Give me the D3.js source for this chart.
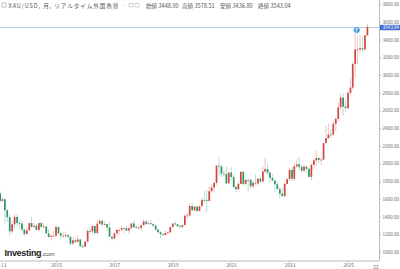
<!DOCTYPE html>
<html>
<head>
<meta charset="utf-8">
<script src="https://cdn.jsdelivr.net/npm/d3@7"></script>
<style>
  html, body { margin: 0; padding: 0; background: #fff; }
  #chart { width: 400px; height: 269px; overflow: hidden; }
</style>
</head>
<body>
<div id="chart"></div>
<script>
// XAU/USD monthly candles, Jan 2013 .. Sep 2025
const firstMonth = new Date(2013, 0, 1);

const opens = [
  1675, 1663, 1578, 1596, 1472, 1393, 1234, 1313, 1396, 1327, 1323, 1253,
  1202, 1244, 1326, 1284, 1296, 1250, 1327, 1282, 1287, 1210, 1171, 1182,
  1184, 1283, 1212, 1183, 1183, 1190, 1172, 1095, 1133, 1115, 1142, 1065,
  1061, 1118, 1238, 1233, 1293, 1215, 1321, 1351, 1309, 1316, 1277, 1173,
  1152, 1211, 1249, 1249, 1268, 1269, 1242, 1269, 1322, 1280, 1271, 1275,
  1303, 1345, 1318, 1325, 1316, 1299, 1253, 1224, 1201, 1192, 1215, 1222,
  1282, 1321, 1313, 1292, 1284, 1305, 1409, 1413, 1520, 1472, 1513, 1464,
  1517, 1589, 1585, 1577, 1687, 1730, 1781, 1975, 1967, 1886, 1879, 1776,
  1898, 1847, 1734, 1708, 1769, 1906, 1770, 1814, 1813, 1743, 1783, 1774,
  1829, 1797, 1909, 1937, 1897, 1837, 1807, 1766, 1711, 1660, 1633, 1768,
  1824, 1928, 1827, 1969, 1990, 1962, 1919, 1965, 1940, 1849, 1983, 2036,
  2063, 2040, 2044, 2230, 2286, 2327, 2326, 2448, 2503, 2635, 2744, 2643,
  2625, 2798, 2858, 3124, 3289, 3289, 3303, 3290, 3448
];
const highs = [
  1696, 1684, 1617, 1605, 1488, 1424, 1348, 1434, 1434, 1362, 1361, 1267,
  1280, 1332, 1392, 1331, 1315, 1332, 1345, 1322, 1292, 1255, 1206, 1239,
  1308, 1285, 1224, 1224, 1232, 1205, 1175, 1170, 1157, 1191, 1143, 1088,
  1123, 1263, 1283, 1304, 1303, 1362, 1375, 1367, 1352, 1317, 1338, 1180,
  1220, 1264, 1262, 1296, 1270, 1296, 1274, 1331, 1357, 1306, 1299, 1309,
  1366, 1362, 1356, 1365, 1326, 1310, 1266, 1236, 1214, 1243, 1237, 1285,
  1326, 1346, 1324, 1310, 1306, 1439, 1453, 1555, 1557, 1517, 1515, 1524,
  1611, 1689, 1704, 1747, 1765, 1786, 1984, 2075, 1992, 1933, 1965, 1906,
  1959, 1872, 1755, 1798, 1913, 1917, 1834, 1834, 1834, 1814, 1877, 1831,
  1853, 1974, 2070, 1998, 1910, 1879, 1814, 1808, 1735, 1730, 1786, 1833,
  1949, 1960, 2009, 2049, 2079, 1983, 1987, 1966, 1953, 2009, 2052, 2146,
  2079, 2065, 2236, 2432, 2450, 2388, 2484, 2531, 2686, 2790, 2801, 2726,
  2817, 2956, 3149, 3500, 3435, 3452, 3439, 3454, 3578.51
];
const lows = [
  1626, 1555, 1562, 1321, 1338, 1180, 1208, 1271, 1292, 1251, 1228, 1182,
  1202, 1239, 1277, 1268, 1241, 1240, 1284, 1272, 1206, 1161, 1131, 1167,
  1167, 1190, 1142, 1170, 1168, 1162, 1077, 1080, 1099, 1108, 1053, 1046,
  1061, 1111, 1209, 1208, 1200, 1199, 1311, 1302, 1302, 1241, 1171, 1123,
  1146, 1180, 1195, 1244, 1214, 1237, 1205, 1265, 1274, 1261, 1263, 1236,
  1303, 1307, 1303, 1302, 1282, 1246, 1211, 1160, 1180, 1182, 1196, 1221,
  1276, 1309, 1281, 1266, 1266, 1300, 1381, 1400, 1459, 1459, 1445, 1458,
  1517, 1563, 1451, 1568, 1670, 1671, 1757, 1863, 1849, 1860, 1765, 1775,
  1802, 1717, 1677, 1705, 1765, 1750, 1751, 1688, 1721, 1722, 1759, 1753,
  1780, 1786, 1890, 1872, 1787, 1805, 1681, 1710, 1615, 1617, 1617, 1765,
  1804, 1805, 1805, 1950, 1933, 1893, 1903, 1885, 1846, 1810, 1932, 1973,
  2002, 1985, 2039, 2229, 2277, 2286, 2319, 2364, 2472, 2604, 2537, 2583,
  2615, 2772, 2833, 2970, 3121, 3245, 3268, 3268, 3436.80
];
const closes = [
  1663, 1578, 1596, 1472, 1393, 1234, 1313, 1396, 1327, 1323, 1253, 1202,
  1244, 1326, 1284, 1296, 1250, 1327, 1282, 1287, 1210, 1171, 1182, 1184,
  1283, 1212, 1183, 1183, 1190, 1172, 1095, 1133, 1115, 1142, 1065, 1061,
  1118, 1238, 1233, 1293, 1215, 1321, 1351, 1309, 1316, 1277, 1173, 1152,
  1211, 1249, 1249, 1268, 1269, 1242, 1269, 1322, 1280, 1271, 1275, 1303,
  1345, 1318, 1325, 1316, 1299, 1253, 1224, 1201, 1192, 1215, 1222, 1282,
  1321, 1313, 1292, 1284, 1305, 1409, 1413, 1520, 1472, 1513, 1464, 1517,
  1589, 1585, 1577, 1687, 1730, 1781, 1975, 1967, 1886, 1879, 1776, 1898,
  1847, 1734, 1708, 1769, 1906, 1770, 1814, 1813, 1743, 1783, 1774, 1829,
  1797, 1909, 1937, 1897, 1837, 1807, 1766, 1711, 1660, 1633, 1768, 1824,
  1928, 1827, 1969, 1990, 1962, 1919, 1965, 1940, 1849, 1983, 2036, 2063,
  2040, 2044, 2230, 2286, 2327, 2326, 2448, 2503, 2635, 2744, 2643, 2625,
  2798, 2858, 3124, 3289, 3289, 3303, 3290, 3448, 3543.04
];

const yTicks = [1000, 1200, 1400, 1600, 1800, 2000, 2200, 2400, 2600, 2800, 3000, 3200, 3400, 3600, 3800];
const xTickYears = [2013, 2015, 2017, 2019, 2021, 2023, 2025];
const headerTitle = 'XAU/USD, 月, リアルタイム外国為替 ·';
const headerStats = [
  { label: '始値', value: 3448.00 },
  { label: '高値', value: 3578.51 },
  { label: '安値', value: 3436.80 },
  { label: '終値', value: 3543.04 }
];

const width = 400, height = 269;
const axisX = 379, axisY = 260.5;
const upColor = '#d2463f', downColor = '#2f9468';
const font = '"Noto Sans CJK JP", "Liberation Sans", Arial, sans-serif';

const candles = closes.map((c, i) => ({
  date: d3.timeMonth.offset(firstMonth, i),
  open: opens[i], high: highs[i], low: lows[i], close: c
}));

const x = d3.scaleTime()
  .domain([new Date(2015, 0, 1), new Date(2025, 0, 1)])
  .range([56, 348]);
const y = d3.scaleLinear()
  .domain([1000, 3000])
  .range([252, 75]);

const svg = d3.select('#chart').append('svg')
  .attr('width', width)
  .attr('height', height)
  .style('font-family', font);

svg.append('defs').append('clipPath').attr('id', 'plot-clip')
  .append('rect').attr('x', 0).attr('y', 0).attr('width', axisX).attr('height', axisY);

// current price line
const last = candles[candles.length - 1];
svg.append('line')
  .attr('x1', 0).attr('x2', axisX)
  .attr('y1', Math.round(y(last.close)) + 0.5).attr('y2', Math.round(y(last.close)) + 0.5)
  .attr('stroke', '#b9cde6')
  .attr('stroke-width', 1);

const plot = svg.append('g').attr('clip-path', 'url(#plot-clip)');
const bodyW = 1.7;

plot.selectAll('.wick')
  .data(candles)
  .enter().append('line')
  .attr('class', 'wick')
  .attr('x1', d => x(d.date)).attr('x2', d => x(d.date))
  .attr('y1', d => y(d.high)).attr('y2', d => y(d.low))
  .attr('stroke', d => d.close >= d.open ? upColor : downColor)
  .attr('stroke-opacity', 0.45)
  .attr('stroke-width', 0.7);

plot.selectAll('.body')
  .data(candles)
  .enter().append('rect')
  .attr('class', 'body')
  .attr('x', d => x(d.date) - bodyW / 2)
  .attr('width', bodyW)
  .attr('y', d => y(Math.max(d.open, d.close)))
  .attr('height', d => Math.max(0.8, Math.abs(y(d.open) - y(d.close))))
  .attr('fill', d => d.close >= d.open ? upColor : downColor);

// event marker near last candles
const marker = svg.append('g')
  .attr('transform', `translate(${x(d3.timeMonth.offset(last.date, -4)) - 0.8},${y(last.close) + 3})`);
marker.append('circle').attr('r', 3.3).attr('fill', '#3c8fe2').attr('stroke', '#fff').attr('stroke-width', 0.6);
marker.append('text').attr('text-anchor', 'middle').attr('dy', '1.6')
  .attr('font-size', 4.5).attr('font-weight', 'bold').attr('fill', '#fff').text('F');

// right axis
const yAxis = svg.append('g')
  .attr('transform', `translate(${axisX},0)`)
  .call(d3.axisRight(y).tickValues(yTicks).tickSize(2).tickPadding(1.5).tickFormat(d3.format('.2f')));
yAxis.select('.domain').attr('stroke', '#bbb').attr('d', `M0.5,0V${axisY}`);
yAxis.selectAll('.tick line').attr('stroke', '#bbb');
yAxis.selectAll('.tick text').attr('fill', '#666').attr('font-size', 4.6).attr('font-family', font);

// price tag
const tagY = y(last.close) + 0.5;
svg.append('rect')
  .attr('x', axisX + 1).attr('y', tagY - 2.6)
  .attr('width', 20).attr('height', 5.4)
  .attr('fill', '#3f6fd6');
svg.append('text')
  .attr('x', axisX + 3.5).attr('y', tagY)
  .attr('dy', '0.35em')
  .attr('font-size', 4.6).attr('fill', '#fff')
  .text(d3.format('.2f')(last.close));

// bottom axis
const xAxis = svg.append('g')
  .attr('transform', `translate(0,${axisY})`)
  .call(d3.axisBottom(x)
    .tickValues(xTickYears.map(yr => new Date(yr, 0, 1)))
    .tickSize(2).tickPadding(1.5)
    .tickFormat(d3.timeFormat('%Y')));
xAxis.select('.domain').attr('stroke', '#bbb').attr('d', `M0,0.5H${axisX + 0.5}`);
xAxis.selectAll('.tick line').attr('stroke', '#bbb');
xAxis.selectAll('.tick text').attr('fill', '#666').attr('font-size', 4.8).attr('font-family', font);
// first year label is cut by the left edge in the source chart: show its tail only
xAxis.selectAll('.tick text')
  .filter(d => d < x.invert(0))
  .attr('text-anchor', 'start')
  .attr('x', d => -x(d) + 0.3)
  .text(d => d3.timeFormat('%y')(d));
xAxis.append('text')
  .attr('x', axisX - 3).attr('y', 8.5)
  .attr('text-anchor', 'middle')
  .attr('fill', '#666').attr('font-size', 4.8)
  .text('22');

// header
const header = svg.append('g').attr('font-size', 5.6).attr('fill', '#555');
header.append('rect').attr('x', 2).attr('y', 3).attr('width', 4).attr('height', 4)
  .attr('fill', 'none').attr('stroke', '#999').attr('stroke-width', 0.6);
header.append('text').attr('x', 8.5).attr('y', 8).attr('textLength', 116).text(headerTitle);
[129, 135].forEach(px => {
  header.append('rect').attr('x', px).attr('y', 3.5).attr('width', 4).attr('height', 3.5)
    .attr('fill', 'none').attr('stroke', '#aaa').attr('stroke-width', 0.5);
});
const statX = [146, 182, 220, 258];
headerStats.forEach((s, i) => {
  header.append('text').attr('x', statX[i]).attr('y', 8)
    .text(`${s.label} ${d3.format('.2f')(s.value)}`);
});

// logo
const logo = svg.append('text').attr('x', 4.5).attr('y', 255.5).attr('fill', '#222');
logo.append('tspan').attr('font-family', '"Liberation Sans", Arial, sans-serif')
  .attr('font-weight', 'bold').attr('font-size', 9).attr('letter-spacing', -0.3).text('Investing');
logo.append('tspan').attr('font-family', '"Liberation Sans", Arial, sans-serif')
  .attr('font-size', 6.2).attr('fill', '#444').text('.com');
</script>
</body>
</html>
